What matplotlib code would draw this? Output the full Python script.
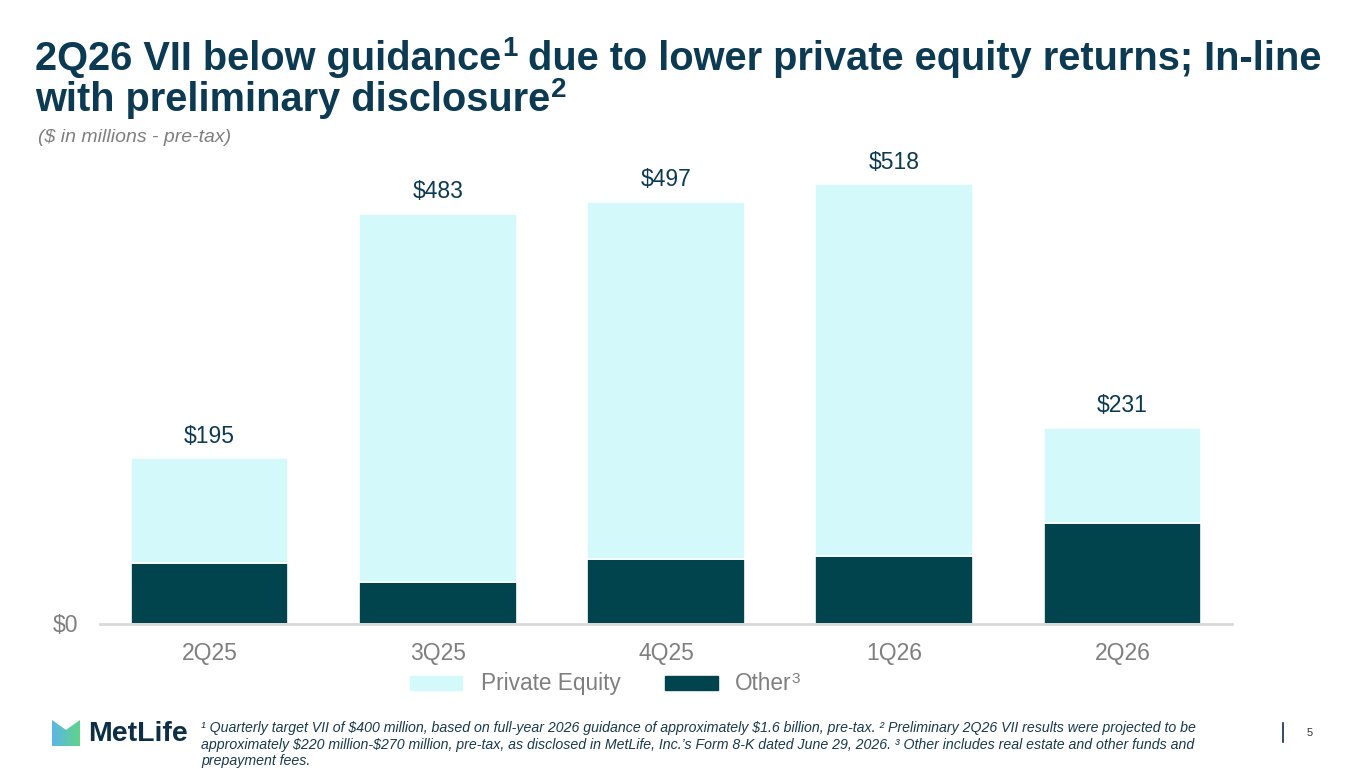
import matplotlib
matplotlib.use("Agg")
import matplotlib.pyplot as plt
import numpy as np
from matplotlib.patches import Polygon, Rectangle

plt.rcParams['font.family'] = ['Liberation Sans', 'DejaVu Sans']

quarters = ['2Q25', '3Q25', '4Q25', '1Q26', '2Q26']
private_equity = [124, 434, 421, 438, 113]
other = [71, 49, 76, 80, 118]
totals = [195, 483, 497, 518, 231]

NAVY = '#0b3a52'
PE_COLOR = '#d3f9fb'
OTHER_COLOR = '#02444e'
GRAY = '#7f7f7f'

fig = plt.figure(figsize=(13.65, 7.69), dpi=100)
W, H = 1365, 769
renderer = fig.canvas.get_renderer()


def sup(txt, s, size, rise, gap=0, **kw):
    # put a superscript just after the end of an existing text
    bb = txt.get_window_extent(renderer=renderer)
    x0, y0 = txt.get_position()
    fig.text((bb.x1 + gap) / W, y0 + rise / H, s, fontsize=size, va='baseline', **kw)


ax = fig.add_axes([100 / W, 1 - 623.5 / H, 1132 / W, 475 / H])
x = np.arange(len(quarters))
ax.bar(x, other, width=0.69, color=OTHER_COLOR, edgecolor='white', linewidth=1.2)
ax.bar(x, private_equity, bottom=other, width=0.69, color=PE_COLOR,
       edgecolor='white', linewidth=1.2)
for xi, t in zip(x, totals):
    ax.text(xi, t + 26, f'${t}', ha='center', va='center', fontsize=16.5, color=NAVY)

ax.set_xlim(-0.48, 4.48)
ax.set_ylim(0, 560)
ax.set_xticks(x)
ax.set_xticklabels(quarters, fontsize=16.5, color=GRAY)
ax.set_yticks([0])
ax.set_yticklabels(['$0'], fontsize=16.5, color=GRAY)
ax.tick_params(axis='x', length=0, pad=13)
ax.tick_params(axis='y', length=0, pad=16)
for s in ['top', 'right', 'left']:
    ax.spines[s].set_visible(False)
ax.spines['bottom'].set_color('#d9d9d9')
ax.spines['bottom'].set_linewidth(2)

# legend
fig.patches.append(Rectangle((410 / W, 1 - 690 / H), 52 / W, 14 / H,
                             transform=fig.transFigure, color=PE_COLOR))
fig.text(481 / W, 1 - 690 / H, 'Private Equity', fontsize=16.3, color=GRAY, va='baseline')
fig.patches.append(Rectangle((665 / W, 1 - 690 / H), 53 / W, 14 / H,
                             transform=fig.transFigure, color=OTHER_COLOR))
t_other = fig.text(735 / W, 1 - 690 / H, 'Other', fontsize=16.3, color=GRAY, va='baseline')
sup(t_other, '3', 11, 7, gap=0, color=GRAY)

# title
t1 = fig.text(35 / W, 1 - 70 / H, '2Q26 VII below guidance',
              fontsize=28.6, fontweight='bold', color=NAVY, va='baseline')
bb = t1.get_window_extent(renderer=renderer)
fig.text(bb.x1 / W + 1 / W, 1 - 56 / H, '1', fontsize=20, fontweight='bold',
         color=NAVY, va='baseline')
fig.text(bb.x1 / W + 16 / W, 1 - 70 / H,
         ' due to lower private equity returns; In-line',
         fontsize=28.6, fontweight='bold', color=NAVY, va='baseline')
t2 = fig.text(35 / W, 1 - 111 / H, 'with preliminary disclosure',
              fontsize=28.6, fontweight='bold', color=NAVY, va='baseline')
sup(t2, '2', 20, 14, gap=1, fontweight='bold', color=NAVY)

fig.text(38 / W, 1 - 138 / H, '(\\$ in millions - pre-tax)', fontsize=14,
         style='italic', color=GRAY, va='center')

# footnote
foot = ['\u00b9 Quarterly target VII of \\$400 million, based on full-year 2026 guidance of approximately \\$1.6 billion, pre-tax. \u00b2 Preliminary 2Q26 VII results were projected to be',
        'approximately \\$220 million-\\$270 million, pre-tax, as disclosed in MetLife, Inc.\u2019s Form 8-K dated June 29, 2026. \u00b3 Other includes real estate and other funds and',
        'prepayment fees.']
for i, line in enumerate(foot):
    fig.text(201 / W, 1 - (728 + 16.5 * i) / H, line, fontsize=10.2, style='italic',
             color='#183a4c', va='center')

# logo
lax = fig.add_axes([52 / W, 1 - 746 / H, 28 / W, 26 / H])
grad = np.linspace(0, 1, 100).reshape(1, -1)
im = lax.imshow(grad, extent=[0, 1, 0, 1], cmap=matplotlib.colors.LinearSegmentedColormap.from_list(
    'ml', ['#5db6e6', '#5fd38b']), aspect='auto')
clip = Polygon([(0, 0), (0, 1), (0.5, 0.62), (1, 1), (1, 0)], closed=True,
               transform=lax.transData)
im.set_clip_path(clip)
lax.set_xlim(0, 1)
lax.set_ylim(0, 1)
lax.axis('off')
fig.text(88 / W, 1 - 734 / H, 'MetLife', fontsize=20.5, fontweight='bold',
         color='#0d2f45', va='center')

# page number
fig.add_artist(plt.Line2D([1283 / W, 1283 / W], [1 - 742 / H, 1 - 723 / H],
                          color='#0d2f45', linewidth=1.2))
fig.text(1310 / W, 1 - 733 / H, '5', fontsize=8, color='#333333', va='center', ha='center')

fig.savefig('out.png', dpi=100)
